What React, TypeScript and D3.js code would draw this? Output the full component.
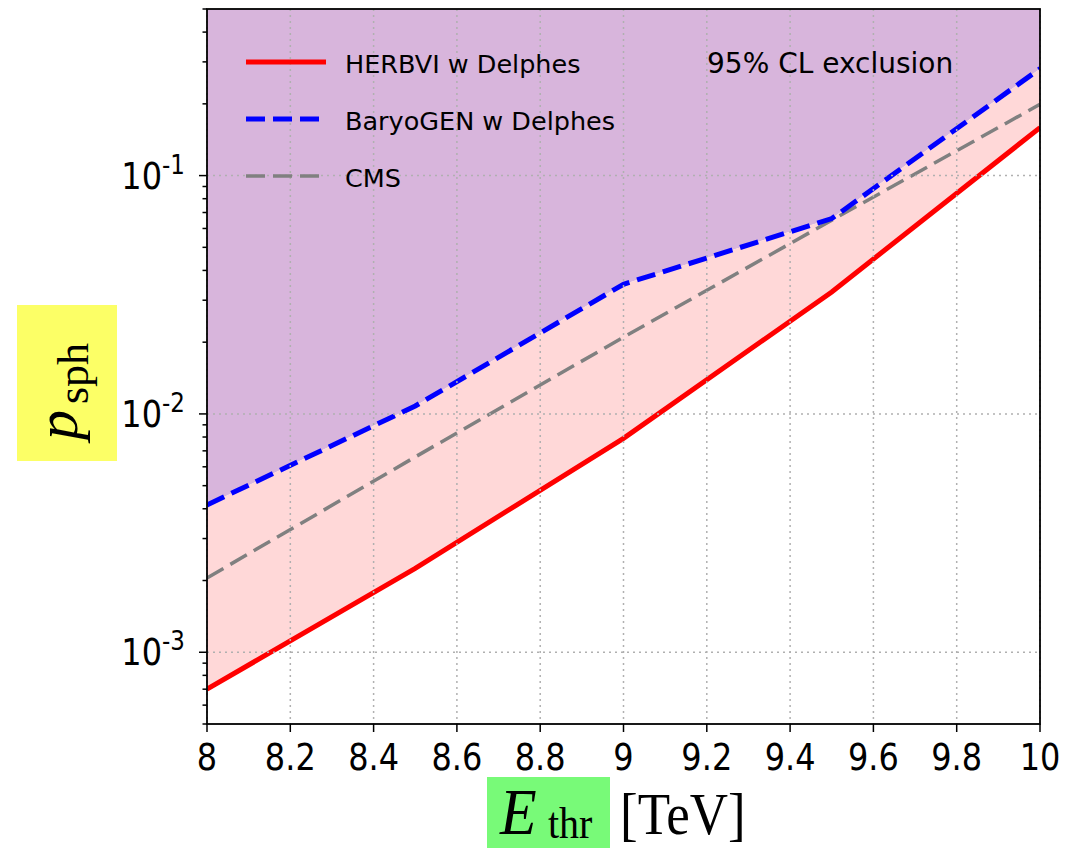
import React, { useRef, useEffect } from 'react';
import * as d3 from 'd3';

const energies = [8, 8.5, 9, 9.5, 10];
const herbvi = [7.0e-4, 2.25e-3, 7.9e-3, 3.25e-2, 0.159];
const baryogen = [4.15e-3, 1.08e-2, 3.5e-2, 6.6e-2, 0.281];
const cms = [2.05e-3, 6.6e-3, 2.1e-2, 6.5e-2, 0.199];

const xTicks = [8, 8.2, 8.4, 8.6, 8.8, 9, 9.2, 9.4, 9.6, 9.8, 10];
const yMajor = [1e-3, 1e-2, 1e-1];
const yExponents = ['-3', '-2', '-1'];

const legendItems = [
  { label: 'HERBVI w Delphes', color: '#ff0000', width: 5, dash: null },
  { label: 'BaryoGEN w Delphes', color: '#0000ff', width: 5, dash: '19,8' },
  { label: 'CMS', color: '#808080', width: 3.5, dash: '19,8' },
];

export default function App() {
  const ref = useRef(null);

  useEffect(() => {
    const width = 1070;
    const height = 848;
    const margin = { top: 9, right: 30, bottom: 124, left: 207 };

    const svg = d3
      .select(ref.current)
      .call((g) => g.select('svg').remove())
      .append('svg')
      .attr('width', width)
      .attr('height', height)
      .style('position', 'absolute')
      .style('left', 0)
      .style('top', 0)
      .style('background', '#fff');

    const x = d3.scaleLinear().domain([8, 10]).range([margin.left, width - margin.right]);
    const y = d3.scaleLog().domain([5e-4, 0.5]).range([height - margin.bottom, margin.top]);

    const rows = energies.map((e, i) => ({
      e,
      red: herbvi[i],
      blue: baryogen[i],
      gray: cms[i],
    }));

    const [x0, x1] = x.range();
    const [yb, yt] = y.range();

    svg.append('clipPath').attr('id', 'plot-clip')
      .append('rect')
      .attr('x', x0).attr('y', yt)
      .attr('width', x1 - x0).attr('height', yb - yt);

    const plot = svg.append('g').attr('clip-path', 'url(#plot-clip)');

    // excluded region above BaryoGEN
    plot.append('path')
      .attr('fill', '#d8b5dc')
      .attr('d', d3.area().x((d) => x(d.e)).y0(yt).y1((d) => y(d.blue))(rows));

    // band between HERBVI and BaryoGEN
    plot.append('path')
      .attr('fill', '#ffd8d8')
      .attr('d', d3.area().x((d) => x(d.e)).y0((d) => y(d.red)).y1((d) => y(d.blue))(rows));

    // grid
    const grid = svg.append('g')
      .attr('stroke', '#b0b0b0')
      .attr('stroke-width', 1.5)
      .attr('stroke-dasharray', '2,4');
    xTicks.forEach((t) => {
      grid.append('line').attr('x1', x(t)).attr('x2', x(t)).attr('y1', yt).attr('y2', yb);
    });
    yMajor.forEach((t) => {
      grid.append('line').attr('x1', x0).attr('x2', x1).attr('y1', y(t)).attr('y2', y(t));
    });

    const line = (key) => d3.line().x((d) => x(d.e)).y((d) => y(d[key]));

    [
      ['gray', '#808080', 3.5, '19,8'],
      ['red', '#ff0000', 5, null],
      ['blue', '#0000ff', 5, '19,8'],
    ].forEach(([key, color, w, dash]) => {
      plot.append('path')
        .attr('fill', 'none')
        .attr('stroke', color)
        .attr('stroke-width', w)
        .attr('stroke-dasharray', dash)
        .attr('d', line(key)(rows));
    });

    // frame
    svg.append('rect')
      .attr('x', x0).attr('y', yt)
      .attr('width', x1 - x0).attr('height', yb - yt)
      .attr('fill', 'none')
      .attr('stroke', '#000')
      .attr('stroke-width', 1.8);

    // ticks
    const ticks = svg.append('g').attr('stroke', '#000').attr('stroke-width', 1.5);
    xTicks.forEach((t) => {
      ticks.append('line').attr('x1', x(t)).attr('x2', x(t)).attr('y1', yb).attr('y2', yb + 8);
    });
    yMajor.forEach((t) => {
      ticks.append('line').attr('x1', x0 - 8).attr('x2', x0).attr('y1', y(t)).attr('y2', y(t));
    });
    y.ticks()
      .filter((t) => !yMajor.some((m) => Math.abs(m - t) / m < 1e-6))
      .forEach((t) => {
        ticks.append('line').attr('x1', x0 - 4.5).attr('x2', x0).attr('y1', y(t)).attr('y2', y(t));
      });

    const font = 'DejaVu Sans, sans-serif';

    xTicks.forEach((t) => {
      svg.append('text')
        .attr('transform', `translate(${x(t)},770) scale(1,1.15)`)
        .attr('text-anchor', 'middle')
        .attr('font-family', font)
        .attr('font-size', 32)
        .attr('fill', '#000')
        .text(String(t));
    });

    yMajor.forEach((t, i) => {
      const label = svg.append('text')
        .attr('transform', `translate(185,${y(t) + 13}) scale(1,1.15)`)
        .attr('text-anchor', 'end')
        .attr('font-family', font)
        .attr('fill', '#000');
      label.append('tspan').attr('font-size', 32).text('10');
      label.append('tspan').attr('font-size', 23).attr('dy', -13).text(yExponents[i]);
    });

    // legend
    legendItems.forEach((item, i) => {
      const ly = 62 + i * 57;
      svg.append('line')
        .attr('x1', 246).attr('x2', 326)
        .attr('y1', ly).attr('y2', ly)
        .attr('stroke', item.color)
        .attr('stroke-width', item.width)
        .attr('stroke-dasharray', item.dash);
      svg.append('text')
        .attr('x', 345).attr('y', ly + 11)
        .attr('font-family', font)
        .attr('font-size', 25.5)
        .attr('fill', '#000')
        .text(item.label);
    });

    svg.append('text')
      .attr('x', 707).attr('y', 73)
      .attr('font-family', font)
      .attr('font-size', 28)
      .attr('fill', '#000')
      .text('95% CL exclusion');

    // axis labels
    const serif = 'Liberation Serif, DejaVu Serif, serif';

    svg.append('rect')
      .attr('x', 487).attr('y', 777).attr('width', 123).attr('height', 71)
      .attr('fill', '#78fa78');

    const xl = svg.append('g').attr('transform', 'translate(0,834) scale(1,1.1)');
    xl.append('text')
      .attr('x', 500).attr('y', 0)
      .attr('font-family', serif).attr('font-size', 60).attr('font-style', 'italic')
      .attr('fill', '#000').text('E');
    xl.append('text')
      .attr('x', 548).attr('y', 4)
      .attr('font-family', serif).attr('font-size', 40)
      .attr('fill', '#000').text('thr');
    xl.append('text')
      .attr('x', 620).attr('y', 0)
      .attr('font-family', serif).attr('font-size', 53)
      .attr('fill', '#000').text('[TeV]');

    svg.append('rect')
      .attr('x', 17).attr('y', 305).attr('width', 100).attr('height', 156)
      .attr('fill', '#fcff66');

    const yl = svg.append('g').attr('transform', 'translate(77,440) rotate(-90)');
    yl.append('text')
      .attr('x', 0).attr('y', 0)
      .attr('font-family', serif).attr('font-size', 60).attr('font-style', 'italic')
      .attr('fill', '#000').text('p');
    yl.append('text')
      .attr('x', 36).attr('y', 11)
      .attr('font-family', serif).attr('font-size', 44)
      .attr('fill', '#000').text('sph');
  }, []);

  return <div ref={ref}></div>;
}
